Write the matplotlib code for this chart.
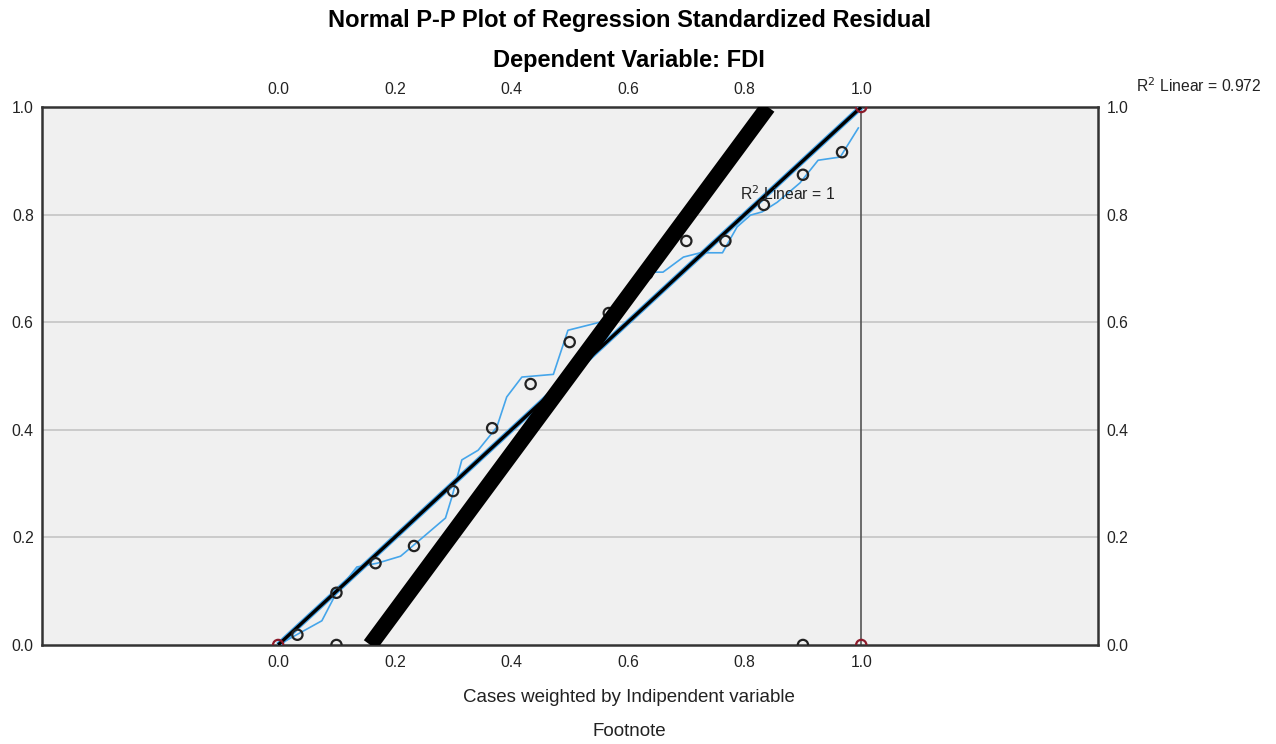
import matplotlib.pyplot as plt
import numpy as np

plt.rcParams['font.family'] = ['Liberation Sans', 'DejaVu Sans']

# observed cum prob (x) vs expected cum prob (y)
pt_x = [0.033, 0.100, 0.100, 0.167, 0.233, 0.300, 0.367, 0.433, 0.500, 0.567,
        0.633, 0.700, 0.767, 0.833, 0.900, 0.967, 0.900]
pt_y = [0.019, 0.000, 0.097, 0.152, 0.184, 0.286, 0.403, 0.485, 0.563, 0.617,
        0.690, 0.751, 0.751, 0.818, 0.874, 0.916, 0.000]
red_x = [0.0, 1.0, 1.0]
red_y = [0.0, 0.0, 1.0]

# blue interpolation line
blue_x = [0.0, 0.075, 0.100, 0.135, 0.170, 0.210, 0.247, 0.287, 0.298, 0.315,
          0.343, 0.375, 0.392, 0.418, 0.472, 0.497, 0.552, 0.570, 0.643, 0.660,
          0.695, 0.724, 0.762, 0.787, 0.810, 0.830, 0.856, 0.895, 0.926, 0.964, 0.995]
blue_y = [0.0, 0.045, 0.097, 0.145, 0.152, 0.165, 0.199, 0.236, 0.275, 0.344,
          0.362, 0.405, 0.461, 0.498, 0.503, 0.585, 0.600, 0.615, 0.693, 0.693,
          0.721, 0.729, 0.729, 0.777, 0.799, 0.805, 0.823, 0.859, 0.901, 0.907, 0.961]

# fit lines
fit1_x = [0.0, 1.0]
fit1_y = [0.0, 1.0]
fit2_x = [0.158, 0.840]
fit2_y = [0.0, 1.0]

ticks = [0.0, 0.2, 0.4, 0.6, 0.8, 1.0]

fig = plt.figure(figsize=(12.76, 7.44), dpi=100)
ax = fig.add_axes([0.0329, 0.1331, 0.8276, 0.7231])
ax.set_facecolor('#f0f0f0')
ax.set_xlim(-0.405, 1.406)
ax.set_ylim(0, 1)

for t in ticks[1:-1]:
    ax.axhline(t, color='#c4c4c4', lw=1.2, zorder=1)
ax.plot([1.0, 1.0], [0.0, 1.0], color='#555555', lw=1.2, zorder=2)

ax.plot(blue_x, blue_y, color='#45a5ea', lw=1.2, zorder=3)
ax.plot(fit1_x, fit1_y, color='#45a5ea', lw=4.0, zorder=3, solid_capstyle='butt')
ax.plot(fit1_x, fit1_y, color='black', lw=2.4, zorder=4, solid_capstyle='butt')

ax.scatter(pt_x, pt_y, s=55, facecolors='none', edgecolors='#222222', linewidths=1.6, zorder=5)
ax.scatter(red_x, red_y, s=55, facecolors='none', edgecolors='#8b1a2a', linewidths=1.6, zorder=5)

ax.plot(fit2_x, fit2_y, color='black', lw=11.5, zorder=6, solid_capstyle='butt')

ax.text(0.792, 0.838, r'R$^2$ Linear = 1', fontsize=11.3, ha='left', va='center',
        color='#222222', zorder=7)
fig.text(0.8905, 0.8845, r'R$^2$ Linear = 0.972', fontsize=11.3, ha='left', va='center',
         color='#222222')

ax.set_xticks(ticks)
ax.set_yticks(ticks)
ax.set_xticklabels(['%.1f' % t for t in ticks])
ax.set_yticklabels(['%.1f' % t for t in ticks])
ax.tick_params(axis='x', length=0, labelsize=11.3, colors='#222222', pad=7,
               top=True, labeltop=True)
ax.tick_params(axis='y', length=0, labelsize=11.3, colors='#222222', pad=6,
               right=True, labelright=True)

for s in ax.spines.values():
    s.set_color('#333333')
    s.set_linewidth(1.8)

fig.text(0.493, 0.973, 'Normal P-P Plot of Regression Standardized Residual',
         fontsize=17, fontweight='bold', ha='center', va='center')
fig.text(0.493, 0.919, 'Dependent Variable: FDI',
         fontsize=17, fontweight='bold', ha='center', va='center')
fig.text(0.493, 0.063, 'Cases weighted by Indipendent variable',
         fontsize=13.5, ha='center', va='center', color='#222222')
fig.text(0.493, 0.017, 'Footnote',
         fontsize=13.5, ha='center', va='center', color='#222222')

fig.savefig('out.png', dpi=100)
